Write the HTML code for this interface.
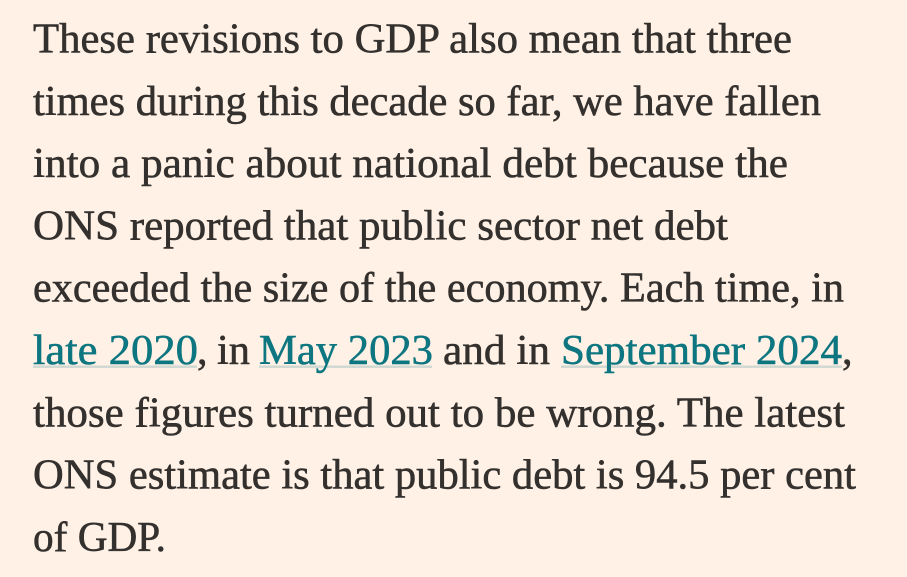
<!DOCTYPE html>
<html>
<head>
<meta charset="utf-8">
<style>
  html, body { margin: 0; padding: 0; background: #fff1e5; }
  body { width: 907px; height: 577px; overflow: hidden; }
  svg { display: block; }
  text { font-family: "Liberation Serif", "DejaVu Serif", serif; font-size: 42px; fill: #33302e; stroke: #33302e; stroke-width: 0.55px; }
  .lk { fill: #0d7680; stroke: #0d7680; }
</style>
</head>
<body>
<svg width="907" height="577" viewBox="0 0 907 577" xmlns="http://www.w3.org/2000/svg">
  <rect x="0" y="0" width="907" height="577" fill="#fff1e5"/>

  <text x="33" y="52.5" textLength="759" lengthAdjust="spacingAndGlyphs">These revisions to GDP also mean that three</text>
  <text x="33" y="114.8" textLength="788" lengthAdjust="spacingAndGlyphs">times during this decade so far, we have fallen</text>
  <text x="33" y="177.1" textLength="755" lengthAdjust="spacingAndGlyphs">into a panic about national debt because the</text>
  <text x="33" y="239.4" textLength="695" lengthAdjust="spacingAndGlyphs">ONS reported that public sector net debt</text>
  <text x="33" y="301.7" textLength="811" lengthAdjust="spacingAndGlyphs">exceeded the size of the economy. Each time, in</text>

  <!-- underlines -->
  <rect x="33" y="365.5" width="164" height="2.4" fill="#cfd8d1"/>
  <rect x="259" y="365.5" width="173" height="2.4" fill="#cfd8d1"/>
  <rect x="561" y="365.5" width="281" height="2.4" fill="#cfd8d1"/>

  <text x="33" y="364" textLength="165" lengthAdjust="spacingAndGlyphs" class="lk">late 2020</text>
  <text x="197" y="364">,</text>
  <text x="217" y="364" textLength="33" lengthAdjust="spacingAndGlyphs">in</text>
  <text x="259" y="364" textLength="174" lengthAdjust="spacingAndGlyphs" class="lk">May 2023</text>
  <text x="443" y="364" textLength="107" lengthAdjust="spacingAndGlyphs">and in</text>
  <text x="561" y="364" textLength="281" lengthAdjust="spacingAndGlyphs" class="lk">September 2024</text>
  <text x="842" y="364">,</text>

  <text x="33" y="426.3" textLength="812" lengthAdjust="spacingAndGlyphs">those figures turned out to be wrong. The latest</text>
  <text x="33" y="488.6" textLength="823" lengthAdjust="spacingAndGlyphs">ONS estimate is that public debt is 94.5 per cent</text>
  <text x="33" y="550.9" textLength="133" lengthAdjust="spacingAndGlyphs">of GDP.</text>
</svg>
</body>
</html>
